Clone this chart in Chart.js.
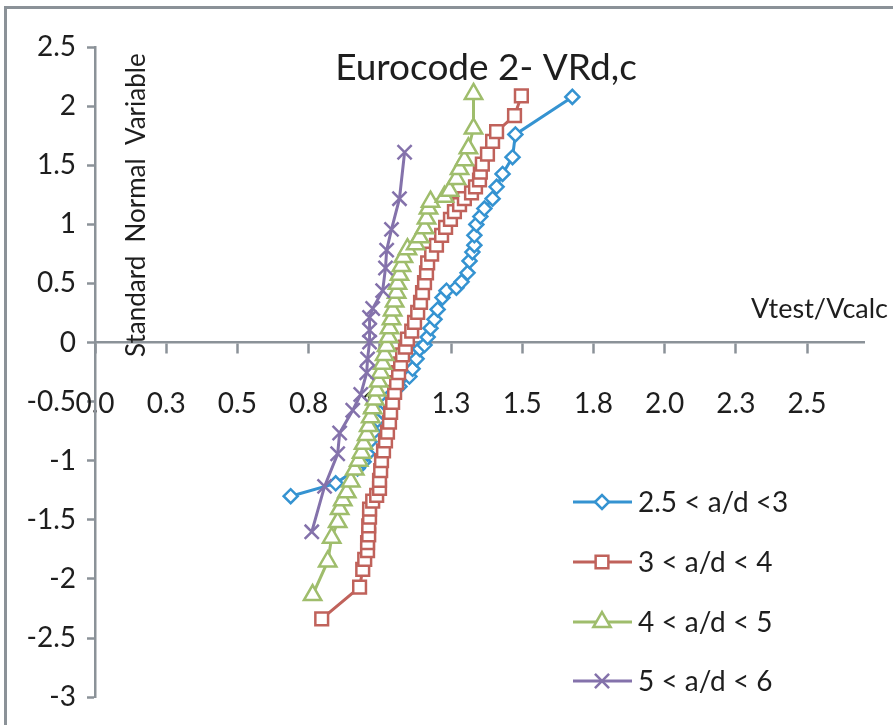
<!DOCTYPE html>
<html>
<head>
<meta charset="utf-8">
<script src="https://cdn.jsdelivr.net/npm/chart.js@4.4.0/dist/chart.umd.min.js"></script>
<style>
  html, body { margin: 0; padding: 0; background: #fff; }
  #wrap { width: 893px; height: 725px; }
</style>
</head>
<body>
<div id="wrap"><canvas id="probPlot" width="893" height="725"></canvas></div>
<script>
// Normal probability plot of Vtest/Vcalc, grouped by shear span a/d
const seriesNames = ['2.5 < a/d <3', '3 < a/d < 4', '4 < a/d < 5', '5 < a/d < 6'];

const ad25to3X = [0.687, 0.845, 0.922, 0.943, 0.957, 0.964, 0.978, 0.992, 1.006, 1.020, 1.041, 1.069, 1.104,
  1.115, 1.129, 1.140, 1.157, 1.168, 1.178, 1.192, 1.203, 1.220, 1.234, 1.269, 1.287, 1.308, 1.315, 1.325,
  1.332, 1.332, 1.339, 1.353, 1.367, 1.396, 1.410, 1.431, 1.466, 1.476, 1.676];
const ad25to3Y = [-1.300, -1.191, -1.066, -1.008, -0.941, -0.840, -0.757, -0.656, -0.581, -0.523, -0.439, -0.372, -0.288,
  -0.222, -0.138, -0.054, -0.021, 0.046, 0.121, 0.196, 0.280, 0.380, 0.439, 0.464, 0.514, 0.590, 0.690, 0.765,
  0.824, 0.907, 0.999, 1.066, 1.133, 1.217, 1.317, 1.426, 1.568, 1.760, 2.078];

const ad3to4X = [0.796, 0.929, 0.940, 0.947, 0.957, 0.957, 0.961, 0.961, 0.964, 0.964, 0.975, 0.989, 0.999, 0.999,
  1.003, 1.006, 1.013, 1.020, 1.027, 1.034, 1.038, 1.045, 1.052, 1.059, 1.066, 1.073, 1.080, 1.090, 1.097, 1.112,
  1.122, 1.133, 1.143, 1.150, 1.157, 1.164, 1.168, 1.182, 1.199, 1.217, 1.231, 1.248, 1.262, 1.280, 1.297, 1.322,
  1.336, 1.350, 1.353, 1.360, 1.378, 1.396, 1.410, 1.473, 1.497];
const ad3to4Y = [-2.337, -2.069, -1.919, -1.835, -1.760, -1.693, -1.626, -1.551, -1.476, -1.409, -1.342, -1.292, -1.233, -1.166,
  -1.083, -0.999, -0.916, -0.832, -0.757, -0.674, -0.590, -0.506, -0.422, -0.339, -0.255, -0.180, -0.104, -0.038, 0.029, 0.096,
  0.171, 0.255, 0.339, 0.422, 0.506, 0.590, 0.673, 0.748, 0.823, 0.907, 0.974, 1.041, 1.108, 1.166, 1.217, 1.267,
  1.317, 1.375, 1.442, 1.509, 1.593, 1.702, 1.785, 1.919, 2.086];

const ad4to5X = [0.764, 0.817, 0.831, 0.852, 0.859, 0.870, 0.884, 0.898, 0.912, 0.926, 0.936, 0.943, 0.954, 0.961,
  0.968, 0.975, 0.982, 0.989, 0.996, 1.003, 1.010, 1.017, 1.024, 1.031, 1.034, 1.041, 1.045, 1.052, 1.059, 1.062,
  1.069, 1.076, 1.083, 1.097, 1.126, 1.140, 1.157, 1.164, 1.171, 1.178, 1.227, 1.245, 1.269, 1.280, 1.297, 1.311,
  1.329, 1.329];
const ad4to5Y = [-2.136, -1.852, -1.651, -1.518, -1.409, -1.334, -1.267, -1.175, -1.074, -0.999, -0.932, -0.857, -0.782, -0.706,
  -0.631, -0.556, -0.481, -0.406, -0.330, -0.255, -0.180, -0.105, -0.029, 0.046, 0.121, 0.196, 0.272, 0.347, 0.422, 0.497,
  0.573, 0.648, 0.723, 0.790, 0.832, 0.890, 0.966, 1.049, 1.133, 1.191, 1.233, 1.283, 1.384, 1.467, 1.543, 1.643,
  1.810, 2.103];

const ad5to6X = [0.761, 0.806, 0.852, 0.859, 0.905, 0.933, 0.954, 0.957, 0.964, 0.964, 0.964, 0.975, 1.010, 1.020,
  1.024, 1.041, 1.069, 1.087];
const ad5to6Y = [-1.601, -1.217, -0.941, -0.765, -0.573, -0.439, -0.255, -0.138, 0.004, 0.105, 0.213, 0.288, 0.439, 0.631,
  0.782, 0.957, 1.217, 1.610];

const xTickValues = [0, 0.25, 0.5, 0.75, 1, 1.25, 1.5, 1.75, 2, 2.25, 2.5];
const xTickLabels = ['0.0', '0.3', '0.5', '0.8', '1.0', '1.3', '1.5', '1.8', '2.0', '2.3', '2.5'];
const yTickValues = [-3, -2.5, -2, -1.5, -1, -0.5, 0, 0.5, 1, 1.5, 2, 2.5];
const yTickLabels = ['-3', '-2.5', '-2', '-1.5', '-1', '-0.5', '0', '0.5', '1', '1.5', '2', '2.5'];

const chartTitle = 'Eurocode 2- VRd,c';
const xTitle = 'Vtest/Vcalc';
const yTitle = 'Standard  Normal  Variable';

const FONT = 'Lato, "Open Sans", sans-serif';
const TEXT = '#1e1e1e';
const AXIS = '#8b9298';
const colors = ['#3593d1', '#c0625b', '#9fbd6c', '#8472ab'];
const markers = [
  { style: 'rectRot', radius: 7 },
  { style: 'rect', radius: 9 },
  { style: 'triangle', radius: 10 },
  { style: 'crossRot', radius: 10 }
];

function toPoints(xs, ys) {
  return xs.map((x, i) => ({ x: x, y: ys[i] }));
}

const seriesData = [
  toPoints(ad25to3X, ad25to3Y),
  toPoints(ad3to4X, ad3to4Y),
  toPoints(ad4to5X, ad4to5Y),
  toPoints(ad5to6X, ad5to6Y)
];

const datasets = seriesData.map((pts, i) => ({
  label: seriesNames[i],
  data: pts,
  showLine: true,
  fill: false,
  tension: 0,
  borderColor: colors[i],
  borderWidth: 3,
  pointStyle: markers[i].style,
  pointRadius: markers[i].radius,
  pointBorderWidth: 2.5,
  pointBackgroundColor: '#ffffff',
  pointBorderColor: colors[i],
  order: 4 - i
}));

// frame, titles and the legend box on the right
const decor = {
  id: 'decor',
  beforeDraw(chart) {
    const ctx = chart.ctx;
    ctx.save();
    ctx.fillStyle = '#ffffff';
    ctx.fillRect(0, 0, chart.width, chart.height);
    ctx.strokeStyle = AXIS;
    ctx.lineWidth = 3;
    ctx.beginPath();
    ctx.moveTo(5.5, chart.height);
    ctx.lineTo(5.5, 7.5);
    ctx.lineTo(chart.width, 7.5);
    ctx.stroke();
    ctx.restore();
  },
  afterDraw(chart) {
    const ctx = chart.ctx;
    ctx.save();
    ctx.fillStyle = TEXT;
    ctx.textBaseline = 'alphabetic';

    ctx.font = '37px ' + FONT;
    ctx.textAlign = 'center';
    ctx.fillText(chartTitle, 486, 80);

    ctx.font = '27px ' + FONT;
    ctx.textAlign = 'right';
    ctx.fillText(xTitle, 888, 318);

    ctx.save();
    ctx.translate(145, 357);
    ctx.rotate(-Math.PI / 2);
    ctx.font = '26px ' + FONT;
    ctx.textAlign = 'left';
    ctx.fillText(yTitle, 0, 0);
    ctx.restore();

    // legend
    const rowY = [502, 562, 622, 681];
    chart.data.datasets.forEach((ds, i) => {
      const y = rowY[i];
      ctx.strokeStyle = ds.borderColor;
      ctx.lineWidth = ds.borderWidth;
      ctx.beginPath();
      ctx.moveTo(573, y);
      ctx.lineTo(632, y);
      ctx.stroke();
      ctx.fillStyle = ds.pointBackgroundColor;
      ctx.strokeStyle = ds.pointBorderColor;
      ctx.lineWidth = ds.pointBorderWidth;
      Chart.helpers.drawPoint(ctx, {
        pointStyle: ds.pointStyle,
        radius: ds.pointRadius,
        borderWidth: ds.pointBorderWidth,
        rotation: 0
      }, 602, y);
      ctx.fillStyle = TEXT;
      ctx.font = '28px ' + FONT;
      ctx.textAlign = 'left';
      ctx.textBaseline = 'middle';
      ctx.fillText(ds.label, 638, y + 1);
    });
    ctx.restore();
  }
};

new Chart(document.getElementById('probPlot'), {
  type: 'scatter',
  data: { datasets },
  plugins: [decor],
  options: {
    responsive: false,
    animation: false,
    devicePixelRatio: 1,
    layout: { padding: { left: 0, top: 47, right: 29, bottom: 21 } },
    plugins: {
      legend: { display: false },
      tooltip: { enabled: false },
      title: { display: false }
    },
    scales: {
      x: {
        type: 'linear',
        position: { y: 0 },
        min: 0,
        max: 2.7,
        afterBuildTicks: s => { s.ticks = xTickValues.map(v => ({ value: v })); },
        ticks: {
          callback: (v, i) => xTickLabels[i],
          font: { family: FONT, size: 28 },
          color: TEXT,
          padding: 35,
          maxRotation: 0,
          autoSkip: false
        },
        grid: { drawOnChartArea: false, drawTicks: true, tickLength: 10, tickColor: AXIS, tickWidth: 2.5 },
        border: { display: true, color: AXIS, width: 2.5 }
      },
      y: {
        type: 'linear',
        position: 'left',
        min: -3,
        max: 2.5,
        afterBuildTicks: s => { s.ticks = yTickValues.map(v => ({ value: v })); },
        afterFit: s => { s.width = 95; },
        ticks: {
          callback: (v, i) => yTickLabels[i],
          font: { family: FONT, size: 28 },
          color: TEXT,
          padding: 11,
          autoSkip: false
        },
        grid: { drawOnChartArea: false, drawTicks: true, tickLength: 8, tickColor: AXIS, tickWidth: 2.5 },
        border: { display: true, color: AXIS, width: 2.5 }
      }
    }
  }
});
</script>
</body>
</html>
